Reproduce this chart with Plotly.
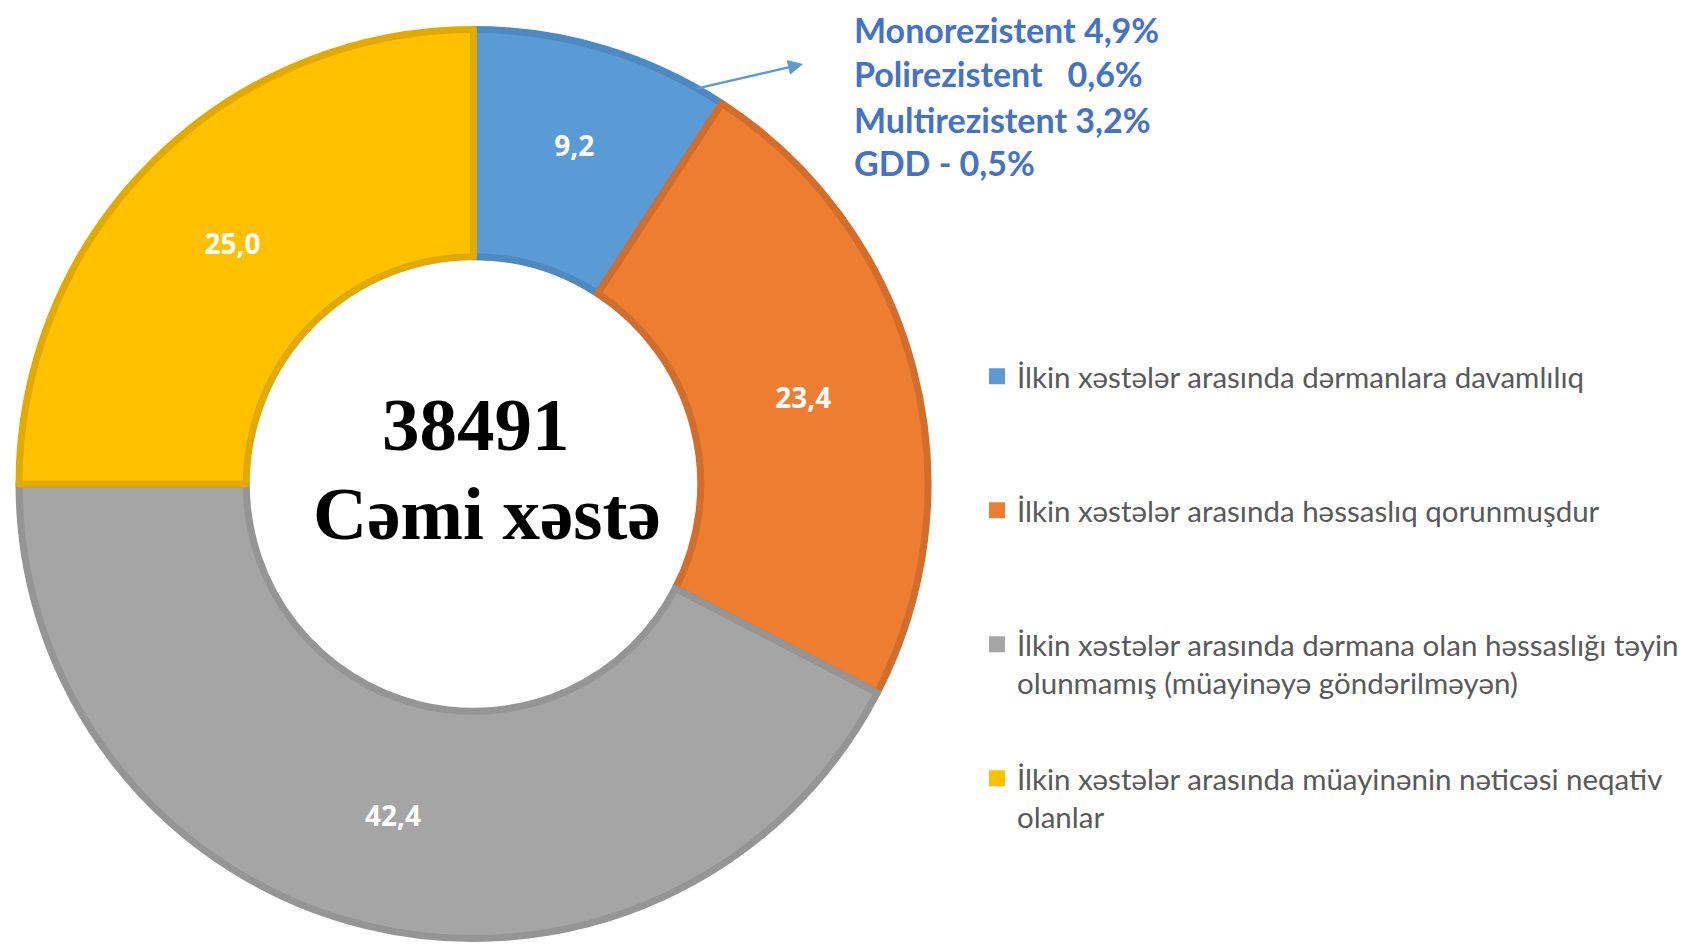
import plotly.graph_objects as go

categories = [
    "İlkin xəstələr arasında dərmanlara davamlılıq",
    "İlkin xəstələr arasında həssaslıq qorunmuşdur",
    "İlkin xəstələr arasında dərmana olan həssaslığı təyin<br>olunmamış (müayinəyə göndərilməyən)",
    "İlkin xəstələr arasında müayinənin nəticəsi neqativ<br>olanlar",
]
values = [9.2, 23.4, 42.4, 25.0]
value_labels = ["9,2", "23,4", "42,4", "25,0"]
fill_colors = ["#5B9BD5", "#ED7D31", "#A5A5A5", "#FFC000"]
line_colors = ["#4F89C2", "#D26D2B", "#959595", "#E2AA00"]
total_patients = "38491"
total_label = "Cəmi xəstə"
resistance_lines = [
    "Monorezistent 4,9%",
    "Polirezistent\u00a0\u00a0\u00a00,6%",
    "Multirezistent 3,2%",
    "GDD - 0,5%",
]

W, H = 1693, 945

fig = go.Figure()
fig.add_trace(go.Pie(
    labels=[c.replace("<br>", " ") for c in categories],
    values=values,
    text=value_labels,
    textinfo="text",
    textposition="inside",
    insidetextorientation="horizontal",
    textfont=dict(family="Open Sans", size=28, color="white", weight="bold"),
    hole=0.5,
    sort=False,
    direction="clockwise",
    rotation=0,
    marker=dict(colors=fill_colors, line=dict(color=line_colors, width=7)),
    domain=dict(x=[11 / W, 920 / W], y=[1 - 930.5 / H, 1 - 21.5 / H]),
    hoverinfo="label+value",
    showlegend=False,
))

# legend entries (one legend per category so spacing can match the original)
legend_names = ["legend", "legend2", "legend3", "legend4"]
legend_tops = [342.5, 476.5, 610.5, 744.5]
for cat, col, lg in zip(categories, fill_colors, legend_names):
    fig.add_trace(go.Scatter(
        x=[None], y=[None], mode="markers", name=cat,
        marker=dict(symbol="square", size=16, color=col),
        legend=lg, showlegend=True, hoverinfo="skip",
    ))

legend_style = dict(xanchor="left", yanchor="top",
                    font=dict(family="Lato", size=29.5, color="#595959"),
                    valign="top", bgcolor="rgba(0,0,0,0)", borderwidth=0)
layout_legends = {}
for lg, top in zip(legend_names, legend_tops):
    layout_legends[lg] = dict(x=969 / W, y=1 - top / H, **legend_style)

annotations = [
    dict(x=468 / W, y=1 - 416 / H, xref="paper", yref="paper", text=total_patients,
         showarrow=False, font=dict(family="Liberation Serif", size=75, color="black", weight="bold"),
         xanchor="center", yanchor="middle"),
    dict(x=479 / W, y=1 - 505 / H, xref="paper", yref="paper", text=total_label,
         showarrow=False, font=dict(family="Liberation Serif", size=75, color="black", weight="bold"),
         xanchor="center", yanchor="middle"),
]
line_y = [22, 66, 111, 155]
for t, yy in zip(resistance_lines, line_y):
    annotations.append(dict(x=844 / W, y=1 - yy / H, xref="paper", yref="paper", text=t,
                            showarrow=False, xanchor="left", yanchor="middle",
                            font=dict(family="Lato", size=34, color="#4472C4", weight="bold")))
annotations.append(dict(x=795 / W, y=1 - 56 / H, xref="paper", yref="paper", text="",
                        showarrow=True, ax=-108, ay=25, arrowhead=2, arrowsize=1.2,
                        arrowwidth=2.5, arrowcolor="#5B9BD5"))

fig.update_layout(
    width=W, height=H,
    margin=dict(l=0, r=0, t=0, b=0),
    paper_bgcolor="white",
    plot_bgcolor="white",
    xaxis=dict(visible=False),
    yaxis=dict(visible=False),
    annotations=annotations,
    **layout_legends,
)

fig.write_html("out.html")
